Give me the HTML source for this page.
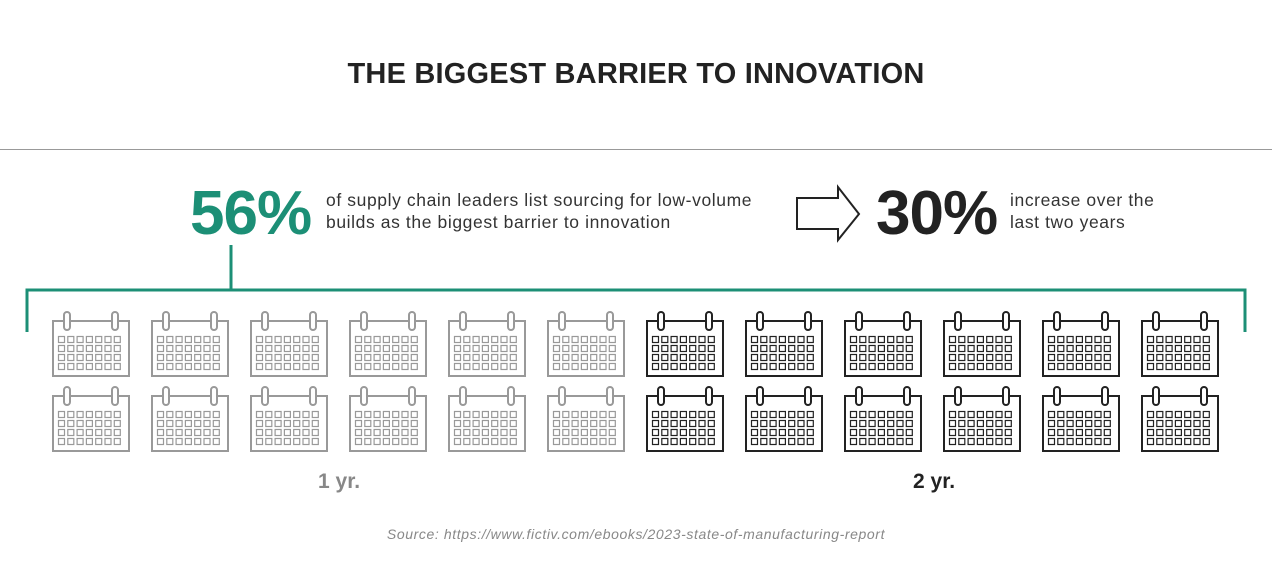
<!DOCTYPE html>
<html><head><style>
body{margin:0;width:1272px;height:574px;background:#fff;overflow:hidden;position:relative;font-family:"Liberation Sans",sans-serif}
.t{position:absolute;white-space:nowrap}
</style></head><body>
<div class="t" style="left:0;width:1272px;text-align:center;top:58px;font-size:29px;font-weight:bold;color:#222;letter-spacing:0.2px">THE BIGGEST BARRIER TO INNOVATION</div>
<div style="position:absolute;left:0;top:149px;width:1272px;height:1px;background:#999"></div>
<div class="t" style="left:190px;top:178px;font-size:62px;font-weight:bold;color:#1c8f76;letter-spacing:-1px">56%</div>
<div class="t" style="left:326px;top:189px;font-size:17.5px;color:#333;line-height:22px;letter-spacing:0.6px">of supply chain leaders list sourcing for low-volume<br>builds as the biggest barrier to innovation</div>
<div class="t" style="left:876px;top:178px;font-size:62px;font-weight:bold;color:#222;letter-spacing:-1px">30%</div>
<div class="t" style="left:1010px;top:189px;font-size:17.5px;color:#333;line-height:22px;letter-spacing:0.6px">increase over the<br>last two years</div>
<div class="t" style="left:318px;top:470px;font-size:21px;font-weight:bold;color:#888">1 yr.</div>
<div class="t" style="left:913px;top:470px;font-size:21px;font-weight:bold;color:#222">2 yr.</div>
<div class="t" style="left:0;width:1272px;text-align:center;top:526px;font-size:14px;font-style:italic;color:#888;letter-spacing:0.6px">Source: https://www.fictiv.com/ebooks/2023-state-of-manufacturing-report</div>
<svg width="1272" height="574" style="position:absolute;left:0;top:0">
<polygon points="797,198 838,198 838,187 859,214 838,240 838,229 797,229" fill="none" stroke="#222" stroke-width="2"/>
<path d="M27,332 V290 H1245 V332 M231,245 V290" fill="none" stroke="#1c8f76" stroke-width="3"/>
<defs>
<g id="cal">
<rect x="1" y="9" width="76" height="55" fill="#fff" stroke-width="2"/>
<rect x="12" y="0" width="6" height="18" rx="3" fill="#fff" stroke-width="2"/>
<rect x="60" y="0" width="6" height="18" rx="3" fill="#fff" stroke-width="2"/>
<g fill="none" stroke-width="1.2">
<rect x="6.5" y="24.5" width="6" height="6"/><rect x="15.8" y="24.5" width="6" height="6"/><rect x="25.1" y="24.5" width="6" height="6"/><rect x="34.4" y="24.5" width="6" height="6"/><rect x="43.7" y="24.5" width="6" height="6"/><rect x="53" y="24.5" width="6" height="6"/><rect x="62.3" y="24.5" width="6" height="6"/>
<rect x="6.5" y="33.5" width="6" height="6"/><rect x="15.8" y="33.5" width="6" height="6"/><rect x="25.1" y="33.5" width="6" height="6"/><rect x="34.4" y="33.5" width="6" height="6"/><rect x="43.7" y="33.5" width="6" height="6"/><rect x="53" y="33.5" width="6" height="6"/><rect x="62.3" y="33.5" width="6" height="6"/>
<rect x="6.5" y="42.5" width="6" height="6"/><rect x="15.8" y="42.5" width="6" height="6"/><rect x="25.1" y="42.5" width="6" height="6"/><rect x="34.4" y="42.5" width="6" height="6"/><rect x="43.7" y="42.5" width="6" height="6"/><rect x="53" y="42.5" width="6" height="6"/><rect x="62.3" y="42.5" width="6" height="6"/>
<rect x="6.5" y="51.5" width="6" height="6"/><rect x="15.8" y="51.5" width="6" height="6"/><rect x="25.1" y="51.5" width="6" height="6"/><rect x="34.4" y="51.5" width="6" height="6"/><rect x="43.7" y="51.5" width="6" height="6"/><rect x="53" y="51.5" width="6" height="6"/><rect x="62.3" y="51.5" width="6" height="6"/>
</g></g></defs>
<g stroke="#999">
<use href="#cal" x="52" y="312"/><use href="#cal" x="151" y="312"/><use href="#cal" x="250" y="312"/><use href="#cal" x="349" y="312"/><use href="#cal" x="448" y="312"/><use href="#cal" x="547" y="312"/>
<use href="#cal" x="52" y="387"/><use href="#cal" x="151" y="387"/><use href="#cal" x="250" y="387"/><use href="#cal" x="349" y="387"/><use href="#cal" x="448" y="387"/><use href="#cal" x="547" y="387"/>
</g>
<g stroke="#222">
<use href="#cal" x="646" y="312"/><use href="#cal" x="745" y="312"/><use href="#cal" x="844" y="312"/><use href="#cal" x="943" y="312"/><use href="#cal" x="1042" y="312"/><use href="#cal" x="1141" y="312"/>
<use href="#cal" x="646" y="387"/><use href="#cal" x="745" y="387"/><use href="#cal" x="844" y="387"/><use href="#cal" x="943" y="387"/><use href="#cal" x="1042" y="387"/><use href="#cal" x="1141" y="387"/>
</g>
</svg>
</body></html>
